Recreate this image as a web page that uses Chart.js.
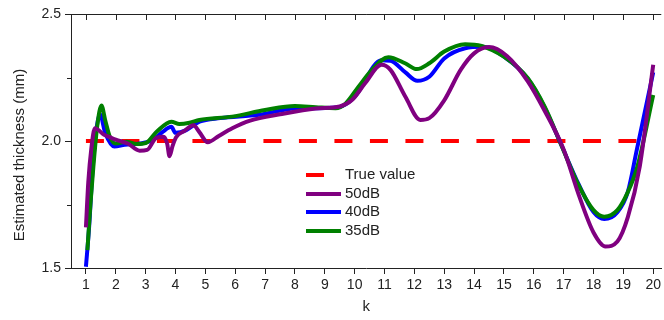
<!DOCTYPE html>
<html><head><meta charset="utf-8">
<script src="https://cdn.jsdelivr.net/npm/chart.js@4/dist/chart.umd.min.js"></script>
<style>html,body{margin:0;padding:0;background:#fff;overflow:hidden}</style>
</head><body>
<canvas id="c" width="664" height="320"></canvas>
<script>
// ---- data ----
const xTicks = [1,2,3,4,5,6,7,8,9,10,11,12,13,14,15,16,17,18,19,20];
const yTicks = [1.5, 2.0, 2.5];
const yMinorTicks = [1.75, 2.25];
const xTitle = 'k';
const yTitle = 'Estimated thickness (mm)';

const kTrue = [1, 20];
const thickTrue = [2.0, 2.0];

const k50 = [1.0,1.08,1.18,1.3,1.4,1.6,1.8,2.0,2.4,2.8,3.05,3.35,3.6,3.72,3.8,3.9,4.02,4.3,4.6,4.8,5.08,5.45,5.9,6.5,7.5,8.7,9.5,9.9,10.35,10.9,11.2,11.7,12.2,12.5,13.0,13.55,14.0,14.5,15.1,15.8,16.35,17.0,17.5,18.0,18.4,18.8,19.15,19.55,20.0];
const thick50 = [1.66,1.84,1.97,2.05,2.045,2.025,2.015,2.005,1.99,1.962,1.965,2.012,2.017,1.99,1.94,1.98,2.015,2.04,2.062,2.035,1.995,2.02,2.05,2.08,2.105,2.128,2.136,2.16,2.227,2.3,2.28,2.174,2.083,2.09,2.16,2.28,2.345,2.37,2.335,2.235,2.122,1.967,1.79,1.64,1.585,1.604,1.70,1.9,2.3];

const k40 = [1.0,1.1,1.25,1.47,1.65,1.95,2.3,2.8,3.24,3.58,3.86,4.0,4.36,4.8,5.5,6.8,8.0,9.45,10.0,10.9,11.2,11.7,12.1,12.5,13.0,13.7,14.3,15.0,15.8,16.35,16.9,17.5,18.0,18.36,18.8,19.15,19.45,20.0];
const thick40 = [1.505,1.65,1.93,2.105,2.03,1.978,1.985,1.99,2.004,2.037,2.056,2.032,2.043,2.076,2.09,2.103,2.128,2.133,2.174,2.318,2.316,2.27,2.237,2.253,2.325,2.365,2.371,2.332,2.245,2.135,1.99,1.83,1.72,1.693,1.72,1.80,1.965,2.27];

const k35 = [1.05,1.15,1.25,1.38,1.52,1.65,1.8,2.0,2.36,2.7,3.02,3.36,3.86,4.13,4.47,4.8,5.9,7.0,8.0,8.7,9.36,9.7,10.13,10.58,11.13,11.69,12.08,12.5,13.0,13.7,14.25,15.0,15.8,16.36,16.9,17.47,18.0,18.36,18.8,19.13,19.47,20.0];
const thick35 = [1.57,1.75,1.9,2.06,2.14,2.08,2.017,1.99,1.997,1.988,1.993,2.035,2.076,2.067,2.072,2.083,2.096,2.122,2.138,2.133,2.129,2.148,2.214,2.28,2.33,2.306,2.283,2.306,2.352,2.381,2.374,2.332,2.247,2.136,1.99,1.833,1.728,1.702,1.728,1.794,1.899,2.181];

const seriesLabels = ['True value', '50dB', '40dB', '35dB'];

// ---- styling ----
const axisColor = '#222';
const fontFamily = '"Liberation Sans", Arial, sans-serif';
const pts = (ks, vs) => ks.map((k, i) => ({x: k, y: vs[i]}));

const framePlugin = {
  id: 'frameAndLegend',
  afterDraw(chart) {
    const {ctx, chartArea: a, scales: {x, y}} = chart;
    ctx.save();
    // top axis with inward ticks, and minor y ticks
    ctx.strokeStyle = axisColor;
    ctx.lineWidth = 1;
    ctx.beginPath();
    ctx.moveTo(a.left, a.top + 0.5); ctx.lineTo(a.right, a.top + 0.5);
    xTicks.forEach(v => {
      const px = Math.round(x.getPixelForValue(v)) + 0.5;
      ctx.moveTo(px, a.top); ctx.lineTo(px, a.top + 6);
    });
    yMinorTicks.forEach(v => {
      const py = Math.round(y.getPixelForValue(v)) + 0.5;
      ctx.moveTo(a.left - 4, py); ctx.lineTo(a.left, py);
    });
    ctx.stroke();
    // y axis title (rotated, slightly below the plot centre as in the original)
    ctx.save();
    ctx.translate(23.5, (a.top + a.bottom) / 2 + 14);
    ctx.rotate(-Math.PI / 2);
    ctx.font = '15px ' + fontFamily;
    ctx.fillStyle = '#222';
    ctx.textAlign = 'center';
    ctx.textBaseline = 'alphabetic';
    ctx.fillText(yTitle, 0, 0);
    ctx.restore();
    // legend inside plot
    const lx = a.left + 235, ly = a.top + 161, rowH = 18.5, lineLen = 35;
    ctx.font = '15px ' + fontFamily;
    ctx.textBaseline = 'middle';
    ctx.textAlign = 'left';
    chart.data.datasets.forEach((ds, i) => {
      const yy = Math.round(ly + i * rowH);
      ctx.beginPath();
      ctx.strokeStyle = ds.borderColor;
      ctx.lineWidth = ds.borderWidth;
      ctx.setLineDash(ds.borderDash || []);
      ctx.lineCap = 'butt';
      ctx.moveTo(lx, yy); ctx.lineTo(lx + lineLen, yy);
      ctx.stroke();
      ctx.setLineDash([]);
      ctx.fillStyle = '#222';
      ctx.fillText(ds.label, lx + 39, yy);
    });
    ctx.restore();
  }
};

new Chart(document.getElementById('c'), {
  type: 'line',
  data: {
    datasets: [
      {label: seriesLabels[0], data: pts(kTrue, thickTrue), borderColor: '#ff0000', borderWidth: 4, borderDash: [18, 17.5], order: 4},
      {label: seriesLabels[1], data: pts(k50, thick50), borderColor: '#800080', borderWidth: 4, order: 1},
      {label: seriesLabels[2], data: pts(k40, thick40), borderColor: '#0000ff', borderWidth: 4, order: 3},
      {label: seriesLabels[3], data: pts(k35, thick35), borderColor: '#008000', borderWidth: 4, order: 2}
    ]
  },
  options: {
    responsive: false,
    animation: false,
    devicePixelRatio: 1,
    layout: {padding: {top: 14, right: 0, left: 0, bottom: 0}},
    elements: {point: {radius: 0}, line: {cubicInterpolationMode: 'monotone', fill: false}},
    plugins: {legend: {display: false}, tooltip: {enabled: false}},
    scales: {
      x: {
        type: 'linear', min: 0.5, max: 20.27,
        afterBuildTicks: s => { s.ticks = xTicks.map(v => ({value: v})); },
        afterFit: s => { s.height = 52; },
        grid: {drawOnChartArea: false, drawTicks: true, tickLength: 6, color: axisColor},
        border: {display: true, color: axisColor, width: 1},
        ticks: {color: '#222', font: {size: 14, family: fontFamily}, padding: 3, maxRotation: 0, autoSkip: false},
        title: {display: true, text: xTitle, color: '#222', font: {size: 15, family: fontFamily}, padding: {top: 9}}
      },
      y: {
        type: 'linear', min: 1.5, max: 2.5,
        afterBuildTicks: s => { s.ticks = yTicks.map(v => ({value: v})); },
        afterFit: s => { s.width = 71; },
        grid: {drawOnChartArea: false, drawTicks: true, tickLength: 6, color: axisColor},
        border: {display: true, color: axisColor, width: 1},
        ticks: {color: '#222', font: {size: 14, family: fontFamily}, padding: 4, callback: v => Number(v).toFixed(1)},
        title: {display: false}
      }
    }
  },
  plugins: [framePlugin]
});
</script>
</body></html>
